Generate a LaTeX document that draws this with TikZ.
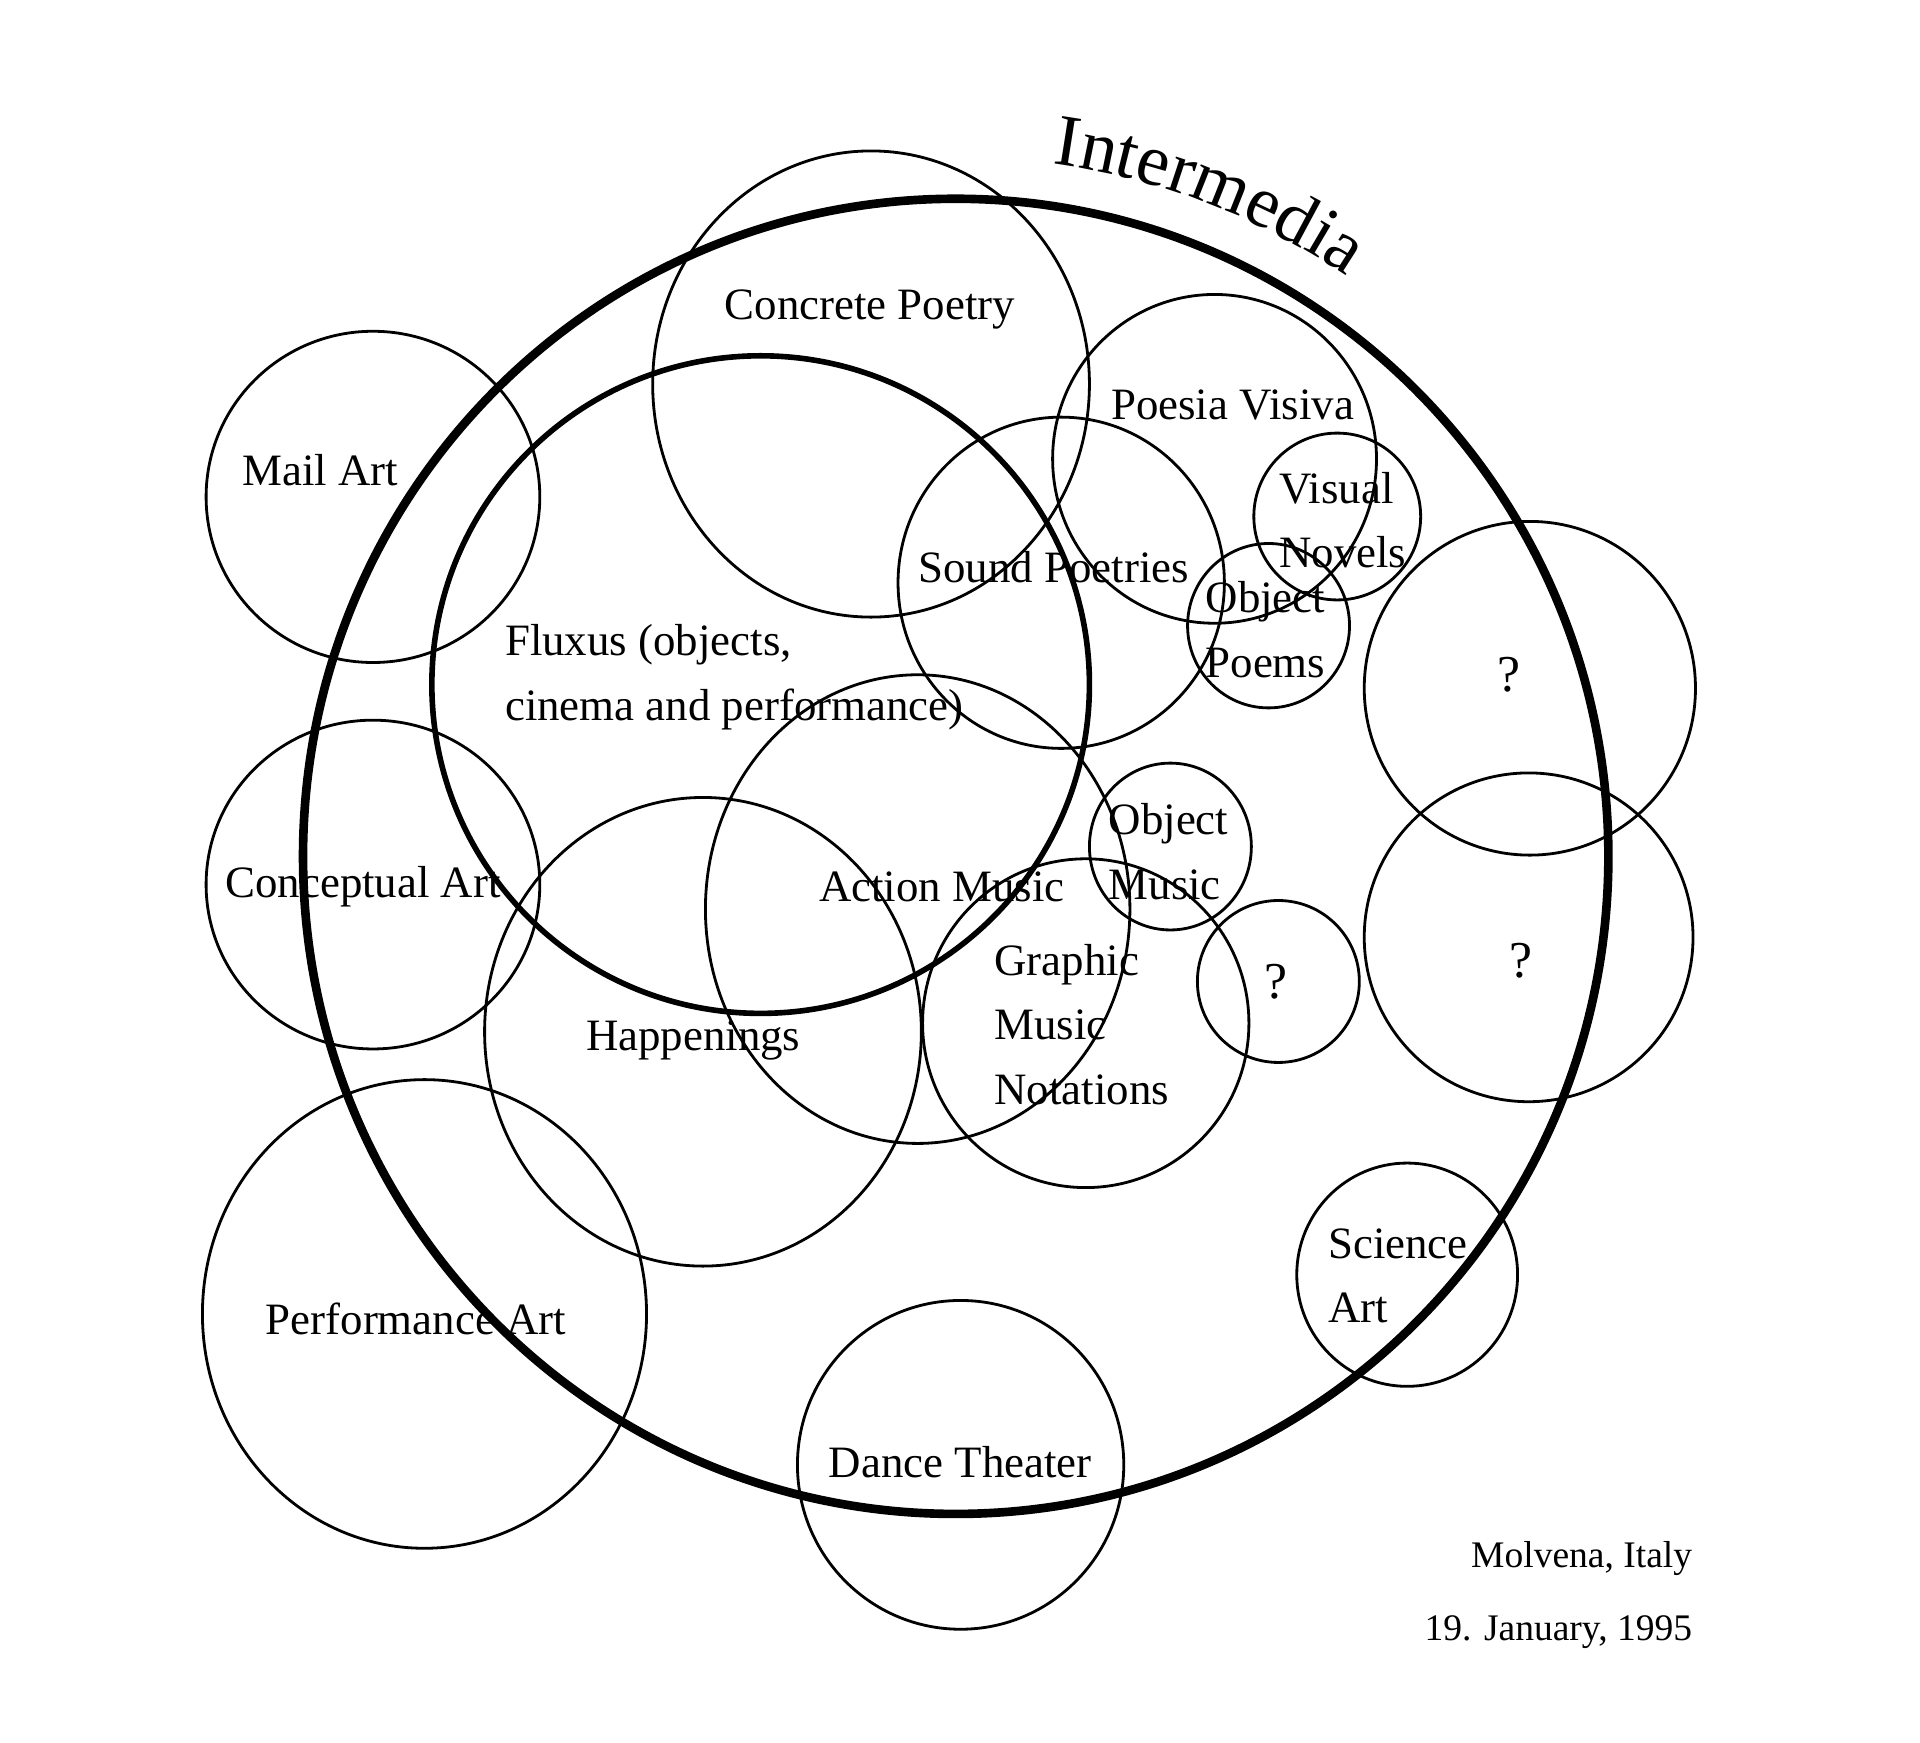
\documentclass[tikz,border=0pt]{standalone}
\usepackage{fontspec}
\setmainfont{Liberation Serif}
\usetikzlibrary{decorations.text}
\tikzset{
	ring/.style={line width=0.65pt},
	bigring/.style={line width=2pt},
	fluxring/.style={line width=1.3pt},
	lbl/.style={anchor=west, inner sep=0pt, align=left, font=\fontsize{10.4}{15}\selectfont},
	qmark/.style={inner sep=0pt, font=\fontsize{12}{14}\selectfont},
	place/.style={anchor=east, inner sep=0pt, font=\fontsize{8.7}{10}\selectfont}
}
\begin{document}
\begin{tikzpicture}[x=0.01cm, y=-0.01cm]
	\useasboundingbox (0,0) rectangle (1565,1420);
	\coordinate (inter) at (779,698);
	\draw[bigring] (inter) ellipse[x radius=532, y radius=536];
	\path[decorate, decoration={text along path, text align=center,
		text={|\fontsize{17}{19}\selectfont|Intermedia}}]
		(inter) ++(-97:570) arc[start angle=-97, end angle=-41, radius=570];
	\draw[fluxring] (620,558) ellipse[x radius=268, y radius=268];
	\draw[ring] (710,313) ellipse[x radius=178, y radius=190];
	\draw[ring] (304,405) ellipse[x radius=136, y radius=135];
	\draw[ring] (304,721) ellipse[x radius=136, y radius=134];
	\draw[ring] (346,1071) ellipse[x radius=181, y radius=191];
	\draw[ring] (573,841) ellipse[x radius=178, y radius=191];
	\draw[ring] (748,741) ellipse[x radius=173, y radius=191];
	\draw[ring] (885,834) ellipse[x radius=133, y radius=134];
	\draw[ring] (865,475) ellipse[x radius=133, y radius=135];
	\draw[ring] (990,374) ellipse[x radius=132, y radius=134];
	\draw[ring] (1090,421) ellipse[x radius=68, y radius=68];
	\draw[ring] (1034,510) ellipse[x radius=66, y radius=67];
	\draw[ring] (954,690) ellipse[x radius=66, y radius=68];
	\draw[ring] (1042,800) ellipse[x radius=66, y radius=66];
	\draw[ring] (1247,561) ellipse[x radius=135, y radius=136];
	\draw[ring] (1246,764) ellipse[x radius=134, y radius=134];
	\draw[ring] (1147,1039) ellipse[x radius=90, y radius=91];
	\draw[ring] (783,1194) ellipse[x radius=133, y radius=134];
	\node[lbl] (concrete) at (590,252) {Concrete Poetry};
	\node[lbl] (mailart) at (197,383) {Mail Art};
	\node[lbl] (poesia) at (905,330) {Poesia Visiva};
	\node[lbl] (visual) at (1042,424) {Visual\\Novels};
	\node[lbl] (sound) at (748,462) {Sound Poetries};
	\node[lbl] (objpoems) at (982,513) {Object\\Poems};
	\node[lbl] (fluxus) at (411,552) {Fluxus (objects,\\cinema and performance)};
	\node[lbl] (objmusic) at (903,694) {Object\\Music};
	\node[lbl] (concept) at (183,723) {Conceptual Art};
	\node[lbl] (action) at (667,723) {Action Music};
	\node[lbl] (graphic) at (810,835) {Graphic\\Music\\Notations};
	\node[lbl] (happen) at (477,848) {Happenings};
	\node[lbl] (science) at (1082,1040) {Science\\Art};
	\node[lbl] (perfart) at (216,1075) {Performance Art};
	\node[lbl] (dance) at (675,1192) {Dance Theater};
	\node[qmark] (qa) at (1230,550) {?};
	\node[qmark] (qb) at (1240,783) {?};
	\node[qmark] (qc) at (1040,800) {?};
	\node[place] (molvena) at (1380,1270) {Molvena, Italy};
	\node[place] (date) at (1380,1330) {19. January, 1995};
\end{tikzpicture}
\end{document}
